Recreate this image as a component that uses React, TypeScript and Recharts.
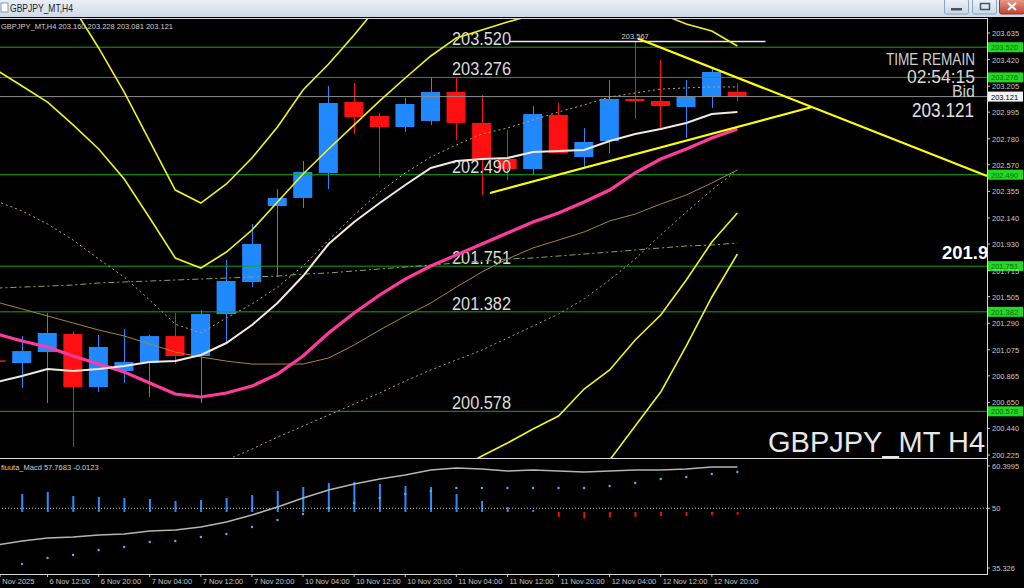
import React from "react";
import {
  Bar,
  ComposedChart,
  Line,
  ReferenceDot,
  ReferenceLine,
  XAxis,
  YAxis,
} from "recharts";

const FONT = '"Liberation Sans", Arial, sans-serif';

// H4 bars, index 0 = 6 Nov 08:00
const barIndex = [-1, 0, 1, 2, 3, 4, 5, 6, 7, 8, 9, 10, 11, 12, 13, 14, 15, 16, 17, 18, 19, 20, 21, 22, 23, 24, 25, 26, 27, 28];
const barTime = [
  "6 Nov 04:00", "6 Nov 08:00", "6 Nov 12:00", "6 Nov 16:00", "6 Nov 20:00",
  "7 Nov 00:00", "7 Nov 04:00", "7 Nov 08:00", "7 Nov 12:00", "7 Nov 16:00", "7 Nov 20:00",
  "10 Nov 00:00", "10 Nov 04:00", "10 Nov 08:00", "10 Nov 12:00", "10 Nov 16:00", "10 Nov 20:00",
  "11 Nov 00:00", "11 Nov 04:00", "11 Nov 08:00", "11 Nov 12:00", "11 Nov 16:00", "11 Nov 20:00",
  "12 Nov 00:00", "12 Nov 04:00", "12 Nov 08:00", "12 Nov 12:00", "12 Nov 16:00", "12 Nov 20:00",
  "13 Nov 00:00",
];
const firstAxisLabel = "5 Nov 2025";

const open = [200.99, 200.968, 201.057, 201.203, 200.774, 200.904, 200.968, 201.186, 201.025, 201.364, 201.623, 202.237, 202.302, 202.504, 203.077, 202.964, 202.875, 202.924, 203.158, 202.908, 202.617, 202.536, 202.972, 202.633, 202.762, 203.102, 203.085, 203.037, 203.118, 203.16];
const high = [201.0, 201.186, 201.372, 201.227, 201.195, 201.243, 201.195, 201.372, 201.397, 201.801, 202.092, 202.374, 202.601, 203.207, 203.231, 202.99, 203.11, 203.279, 203.271, 203.134, 202.851, 203.045, 203.069, 202.867, 203.255, 203.567, 203.417, 203.255, 203.352, 203.228];
const low = [200.97, 200.766, 200.645, 200.29, 200.734, 200.807, 200.694, 200.96, 200.645, 201.13, 201.583, 201.663, 202.221, 202.374, 202.819, 202.471, 202.835, 202.892, 202.77, 202.326, 202.447, 202.488, 202.665, 202.552, 202.665, 202.94, 202.867, 202.787, 203.029, 203.081];
const close = [200.98, 201.065, 201.211, 200.774, 201.098, 200.976, 201.186, 201.025, 201.364, 201.631, 201.93, 202.302, 202.512, 203.069, 202.956, 202.875, 203.061, 203.158, 202.908, 202.617, 202.536, 202.98, 202.665, 202.754, 203.102, 203.085, 203.045, 203.118, 203.32, 203.121];

const maWhite = [200.815, 200.863, 200.92, 200.904, 200.92, 200.944, 200.976, 200.984, 201.033, 201.13, 201.275, 201.453, 201.671, 201.93, 202.108, 202.261, 202.407, 202.544, 202.601, 202.617, 202.625, 202.673, 202.681, 202.69, 202.762, 202.819, 202.859, 202.908, 202.98, 202.997];
const maPink = [201.203, 201.146, 201.098, 201.025, 200.96, 200.896, 200.807, 200.718, 200.694, 200.726, 200.782, 200.879, 201.025, 201.211, 201.372, 201.518, 201.647, 201.752, 201.841, 201.93, 202.019, 202.108, 202.18, 202.269, 202.366, 202.504, 202.617, 202.698, 202.787, 202.859];
const maTan = [201.461, 201.405, 201.348, 201.292, 201.235, 201.187, 201.122, 201.057, 201.017, 200.984, 200.96, 200.96, 200.96, 201.009, 201.114, 201.235, 201.348, 201.453, 201.582, 201.704, 201.809, 201.898, 201.962, 202.027, 202.116, 202.172, 202.253, 202.326, 202.423, 202.528];
const maFast = [202.277, 202.197, 202.092, 201.962, 201.809, 201.663, 201.477, 201.283, 201.211, 201.332, 201.445, 201.582, 201.752, 201.962, 202.164, 202.35, 202.504, 202.633, 202.73, 202.819, 202.867, 202.932, 202.997, 203.053, 203.118, 203.15, 203.182, 203.191, 203.199, 203.199];
const maSlow = [null, null, null, null, null, null, null, null, 200.096, 200.184, 200.273, 200.37, 200.459, 200.548, 200.637, 200.726, 200.823, 200.912, 200.993, 201.073, 201.17, 201.267, 201.364, 201.486, 201.639, 201.809, 202.003, 202.189, 202.366, 202.528];
const maGreen = [201.574, 201.582, 201.59, 201.599, 201.615, 201.623, 201.631, 201.639, 201.647, 201.655, 201.663, 201.671, 201.687, 201.696, 201.712, 201.728, 201.744, 201.76, 201.776, 201.793, 201.809, 201.817, 201.833, 201.849, 201.865, 201.881, 201.898, 201.914, 201.922, 201.938];
const bandUpOuter = [204.807, 204.483, 204.168, 203.845, 203.514, 203.158, 202.762, 202.366, 202.261, 202.415, 202.625, 202.875, 203.174, 203.384, 203.619, 203.869, 204.144, 204.346, 204.467, 204.548, 204.589, 204.589, 204.548, 204.467, 204.387, 204.306, 204.225, 204.144, 204.063, 204.023];
const bandUpInner = [203.336, 203.207, 203.077, 202.892, 202.698, 202.455, 202.14, 201.817, 201.736, 201.865, 202.043, 202.269, 202.496, 202.698, 202.892, 203.086, 203.271, 203.449, 203.595, 203.659, 203.724, 203.78, 203.837, 203.869, 203.877, 203.853, 203.789, 203.708, 203.651, 203.53];
const bandLowInner = [null, null, null, null, null, null, null, null, null, null, null, null, null, null, null, null, null, 199.991, 200.104, 200.217, 200.322, 200.435, 200.54, 200.758, 200.912, 201.154, 201.356, 201.639, 201.946, 202.18];
const bandLowOuter = [null, null, null, null, null, null, null, null, null, null, null, null, null, null, null, null, null, null, null, null, null, null, null, 199.902, 200.184, 200.459, 200.734, 201.106, 201.502, 201.849];

const macdHist = [null, 53.52, 54.01, 53.03, 52.78, 52.54, 52.29, 51.8, 52.05, 52.54, 53.27, 54.26, 55.24, 56.22, 56.47, 55.98, 55.49, 55.24, 53.52, 51.8, 50.33, 49.59, 47.87, 47.5, 47.75, 47.87, 48.11, 48.11, 48.36, 48.36];
const macdMain = [40.99, 41.97, 42.71, 42.96, 43.45, 43.69, 44.43, 44.68, 45.41, 46.64, 48.36, 50.33, 52.54, 54.5, 55.98, 57.21, 58.19, 59.42, 59.91, 59.66, 59.17, 59.42, 59.17, 58.93, 59.17, 59.42, 59.42, 59.66, 60.15, 60.15];
const macdSignal = [35.58, 36.32, 37.8, 38.53, 39.76, 40.5, 41.73, 41.97, 42.96, 43.69, 45.41, 47.13, 48.61, 50.08, 51.31, 52.54, 53.52, 54.26, 54.99, 54.99, 54.99, 54.99, 54.99, 54.99, 55.49, 56.22, 57.21, 57.7, 58.43, 58.93];
const HIST_BASE = 49.1;

const levels = [203.52, 203.276, 202.49, 201.751, 201.382, 200.578];
const bid = 203.121;
const highMark = { price: 203.567, bar: 24, from: 19.1, to: 29.1 };
const trendUpper = [{ x: 24.1, y: 203.59 }, { x: 37.77, y: 202.48 }];
const trendLower = [{ x: 18.32, y: 202.342 }, { x: 30.92, y: 203.037 }];

const priceTicks = [203.635, 203.42, 203.205, 202.995, 202.78, 202.57, 202.355, 202.14, 201.93, 201.715, 201.505, 201.29, 201.075, 200.865, 200.65, 200.44, 200.225];
const macdTicks = [60.3995, 50, 35.326];

const X_MIN = -0.861;
const X_MAX = 37.77;
const P_MIN = 200.201;
const P_MAX = 203.756;
const M_MIN = 33.86;
const M_MAX = 61.87;

const rows = barIndex.map((k, i) => ({
  k,
  o: open[i],
  h: high[i],
  l: low[i],
  c: close[i],
  white: maWhite[i],
  pink: maPink[i],
  tan: maTan[i],
  fast: maFast[i],
  slow: maSlow[i],
  green: maGreen[i],
  upA: bandUpOuter[i],
  upB: bandUpInner[i],
  loC: bandLowInner[i],
  loD: bandLowOuter[i],
  hist: macdHist[i],
  main: macdMain[i],
  sig: macdSignal[i],
}));

const timeTicks = [X_MIN + 0.001, ...barIndex.filter((k) => k > 0 && k % 2 === 1)];

const Candle = (p: any) => {
  const { x, y, width, height, payload } = p;
  if (payload.h == null) return null;
  const top = Math.min(y, y + height);
  const bot = Math.max(y, y + height);
  const span = payload.h - payload.l || 1;
  const py = (v: number) => top + ((payload.h - v) / span) * (bot - top);
  const up = payload.c >= payload.o;
  const color = up ? "#2189ff" : "#ff1010";
  const cx = Math.round(x + width / 2) + 0.5;
  const bTop = py(Math.max(payload.o, payload.c));
  const bBot = py(Math.min(payload.o, payload.c));
  return (
    <g>
      <line x1={cx} x2={cx} y1={top} y2={bot} stroke={color} strokeWidth={1} />
      <rect x={x} y={bTop} width={width} height={Math.max(1.5, bBot - bTop)} fill={color} />
    </g>
  );
};

const HistBar = (p: any) => {
  const { x, y, width, height, payload } = p;
  if (payload.hist == null) return null;
  const color = payload.hist >= HIST_BASE ? "#2a8cff" : "#e01414";
  return <rect x={x} y={Math.min(y, y + height)} width={width} height={Math.abs(height)} fill={color} />;
};

const LevelLabel = (p: any) => {
  const vb = p.viewBox;
  if (!vb) return null;
  const txt = p.price.toFixed(3);
  return (
    <g fontFamily={FONT}>
      <text x={vb.x + 452} y={vb.y - 2} fontSize={18} textLength={59} lengthAdjust="spacingAndGlyphs" fill="#dcdcdc">
        {txt}
      </text>
      <rect x={vb.x + vb.width + 1} y={vb.y - 5} width={35} height={10} fill="#22d822" />
      <text x={vb.x + vb.width + 4} y={vb.y + 3} fontSize={7.5} fill="#0c6e0c">
        {txt}
      </text>
    </g>
  );
};

const BidLabel = (p: any) => {
  const vb = p.viewBox;
  if (!vb) return null;
  return (
    <g fontFamily={FONT}>
      <rect x={vb.x + vb.width + 1} y={vb.y - 5} width={35} height={10} fill="#f4f4f4" />
      <text x={vb.x + vb.width + 4} y={vb.y + 3} fontSize={7.5} fill="#000">
        {p.price.toFixed(3)}
      </text>
    </g>
  );
};

const PriceTick = (p: any) => (
  <text x={p.x} y={p.y} dy={3} fontSize={7.5} fill="#c8c8c8" fontFamily={FONT}>
    {Number(p.payload.value).toFixed(3)}
  </text>
);

const MacdTick = (p: any) => (
  <text x={p.x} y={p.y} dy={3} fontSize={7.5} fill="#c8c8c8" fontFamily={FONT}>
    {String(p.payload.value)}
  </text>
);

const TimeTick = (p: any) => {
  const v = p.payload.value;
  const label = v < 0 ? firstAxisLabel : barTime[barIndex.indexOf(v)];
  return (
    <text x={p.x + (v < 0 ? -4 : 2)} y={p.y + 5} fontSize={7.5} fill="#c8c8c8" fontFamily={FONT}>
      {label}
    </text>
  );
};

const band = { stroke: "#f2f21e", strokeWidth: 1.6, dot: false, isAnimationActive: false };

const Overlay = () => (
  <svg width={1024} height={588} style={{ position: "absolute", left: 0, top: 0, pointerEvents: "none" }} fontFamily={FONT}>
    <defs>
      <linearGradient id="tb" x1="0" y1="0" x2="0" y2="1">
        <stop offset="0" stopColor="#e9eff6" />
        <stop offset="1" stopColor="#cfdae6" />
      </linearGradient>
      <linearGradient id="btn" x1="0" y1="0" x2="0" y2="1">
        <stop offset="0" stopColor="#eef3f9" />
        <stop offset="1" stopColor="#c9d6e6" />
      </linearGradient>
      <linearGradient id="cls" x1="0" y1="0" x2="0" y2="1">
        <stop offset="0" stopColor="#e8a090" />
        <stop offset="1" stopColor="#c2402e" />
      </linearGradient>
      <clipPath id="plotClip">
        <rect x={0} y={18} width={987} height={440} />
      </clipPath>
    </defs>
    <rect x={0} y={0} width={1024} height={17} fill="url(#tb)" />
    <rect x={1} y={3} width={7} height={9} fill="#fff" stroke="#6d84a4" strokeWidth={0.8} />
    <text x={10} y={12} fontSize={11} textLength={63} lengthAdjust="spacingAndGlyphs" fill="#1e2430">
      GBPJPY_MT,H4
    </text>
    <rect x={944.5} y={-1} width={24} height={15} rx={2} fill="url(#btn)" stroke="#8ea3bd" />
    <rect x={951} y={8} width={11} height={2.5} fill="#44546a" />
    <rect x={972.5} y={-1} width={24} height={15} rx={2} fill="url(#btn)" stroke="#8ea3bd" />
    <rect x={980.5} y={3.5} width={9} height={6} fill="none" stroke="#44546a" strokeWidth={1.5} />
    <rect x={999.5} y={-1} width={25} height={15} rx={2} fill="url(#cls)" stroke="#8a3a30" />
    <path d="M1008 3 L1016 10 M1016 3 L1008 10" stroke="#fff" strokeWidth={2} />

    <line x1={0} x2={988} y1={18.5} y2={18.5} stroke="#d8d8d8" />
    <line x1={987.5} x2={987.5} y1={18} y2={575} stroke="#d8d8d8" />
    <line x1={0} x2={988} y1={458.5} y2={458.5} stroke="#d8d8d8" />
    <line x1={0} x2={988} y1={574.5} y2={574.5} stroke="#d8d8d8" />

    <text x={1} y={29} fontSize={8} fill="#d0d0d0" textLength={172} lengthAdjust="spacingAndGlyphs">
      GBPJPY_MT,H4  203.160 203.228 203.081 203.121
    </text>
    <text x={975} y={65} textAnchor="end" fontSize={16} textLength={89} lengthAdjust="spacingAndGlyphs" fill="#cfcfcf">
      TIME REMAIN
    </text>
    <text x={975} y={83} textAnchor="end" fontSize={19} textLength={68} lengthAdjust="spacingAndGlyphs" fill="#d8d8d8">
      02:54:15
    </text>
    <text x={975} y={97} textAnchor="end" fontSize={16} fill="#cfcfcf">
      Bid
    </text>
    <text x={974} y={117} textAnchor="end" fontSize={20} textLength={62} lengthAdjust="spacingAndGlyphs" fill="#e0e0e0">
      203.121
    </text>
    <g clipPath="url(#plotClip)">
      <text x={942} y={259} fontSize={18.5} fontWeight="bold" fill="#ffffff">
        201.930
      </text>
      <text x={768} y={452} fontSize={29} fill="#e8e8e8">
        GBPJPY_MT H4
      </text>
    </g>
    <text x={1} y={470} fontSize={7.5} fill="#d0d0d0">
      fiuuta_Macd 57.7683 -0.0123
    </text>
  </svg>
);

export default function App() {
  return (
    <div
      style={{
        position: "fixed",
        left: 0,
        top: 0,
        width: 1024,
        height: 588,
        background: "#000",
        overflow: "hidden",
        fontFamily: FONT,
      }}
    >
      <div style={{ position: "absolute", left: 0, top: 18 }}>
        <ComposedChart width={1024} height={440} data={rows} margin={{ top: 0, right: 0, bottom: 0, left: 0 }}>
          <XAxis dataKey="k" type="number" domain={[X_MIN, X_MAX]} allowDataOverflow hide />
          <YAxis
            orientation="right"
            type="number"
            width={37}
            domain={[P_MIN, P_MAX]}
            allowDataOverflow
            ticks={priceTicks}
            interval={0}
            axisLine={false}
            tickLine={{ stroke: "#c8c8c8" }}
            tickSize={3}
            tick={PriceTick}
          />
          {levels.map((lv) => (
            <ReferenceLine key={lv} y={lv} stroke="#12a812" strokeWidth={1} label={<LevelLabel price={lv} />} />
          ))}
          <ReferenceLine y={bid} stroke="#8c8c8c" strokeWidth={1} label={<BidLabel price={bid} />} />
          <ReferenceLine
            segment={[
              { x: highMark.from, y: highMark.price },
              { x: highMark.to, y: highMark.price },
            ]}
            stroke="#ececec"
            strokeWidth={1.5}
          />
          <ReferenceDot
            x={highMark.bar}
            y={highMark.price}
            r={0}
            label={{ value: highMark.price.toFixed(3), position: "top", offset: 2, fill: "#d0d0d0", fontSize: 7.5 }}
          />
          <Bar dataKey={(d: any) => [d.l, d.h]} barSize={19} shape={Candle} isAnimationActive={false} />
          <Line dataKey="green" stroke="#7cae4c" strokeWidth={1} strokeDasharray="6 3 2 3" dot={false} isAnimationActive={false} />
          <Line dataKey="slow" stroke="#bf9f52" strokeWidth={1} strokeDasharray="2 3" dot={false} isAnimationActive={false} />
          <Line dataKey="fast" stroke="#c8a452" strokeWidth={1} strokeDasharray="2 3" dot={false} isAnimationActive={false} />
          <Line dataKey="tan" stroke="#a8842e" strokeWidth={1} dot={false} isAnimationActive={false} />
          <Line dataKey="upA" {...band} />
          <Line dataKey="upB" {...band} />
          <Line dataKey="loC" {...band} />
          <Line dataKey="loD" {...band} />
          <Line dataKey="pink" stroke="#ff3a9e" strokeWidth={3.2} dot={false} isAnimationActive={false} />
          <Line dataKey="white" stroke="#f4e8df" strokeWidth={2} dot={false} isAnimationActive={false} />
          <ReferenceLine segment={trendUpper} stroke="#ffff00" strokeWidth={2.2} />
          <ReferenceLine segment={trendLower} stroke="#ffff00" strokeWidth={2.2} />
        </ComposedChart>
      </div>
      <div style={{ position: "absolute", left: 0, top: 460 }}>
        <ComposedChart width={1024} height={128} data={rows} margin={{ top: 0, right: 0, bottom: 0, left: 0 }}>
          <XAxis
            dataKey="k"
            type="number"
            domain={[X_MIN, X_MAX]}
            allowDataOverflow
            ticks={timeTicks}
            interval={0}
            height={14}
            axisLine={false}
            tickLine={{ stroke: "#c8c8c8" }}
            tickSize={3}
            tick={TimeTick}
          />
          <YAxis
            orientation="right"
            type="number"
            width={37}
            domain={[M_MIN, M_MAX]}
            allowDataOverflow
            ticks={macdTicks}
            interval={0}
            axisLine={false}
            tickLine={{ stroke: "#c8c8c8" }}
            tickSize={3}
            tick={MacdTick}
          />
          <ReferenceLine y={50} stroke="#c4c4c4" strokeDasharray="1 2" />
          <Bar
            dataKey={(d: any) => (d.hist == null ? null : [Math.min(d.hist, HIST_BASE), Math.max(d.hist, HIST_BASE)])}
            barSize={2}
            shape={HistBar}
            isAnimationActive={false}
          />
          <Line dataKey="main" stroke="#b4b4b4" strokeWidth={1.5} dot={false} isAnimationActive={false} />
          <Line
            dataKey="sig"
            stroke="none"
            dot={{ r: 1.2, fill: "#38c4d8", stroke: "none" }}
            isAnimationActive={false}
          />
        </ComposedChart>
      </div>
      <Overlay />
    </div>
  );
}
